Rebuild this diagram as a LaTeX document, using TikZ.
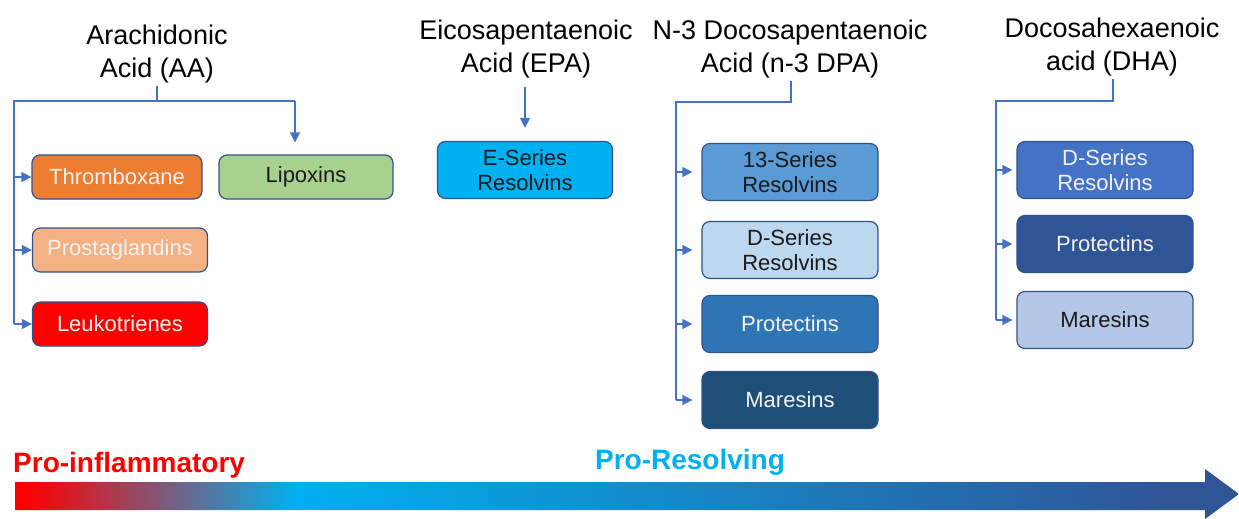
\documentclass[tikz,border=0pt]{standalone}
\usepackage{fontspec}
\setmainfont{Liberation Sans}
\usetikzlibrary{arrows.meta, positioning}

\definecolor{linkblue}{HTML}{4472C4}
\definecolor{edgeblue}{HTML}{2F528F}
\definecolor{thromboorange}{HTML}{ED7D31}
\definecolor{lipoxgreen}{HTML}{A9D18E}
\definecolor{prostapeach}{HTML}{F4B183}
\definecolor{leukored}{HTML}{FF0000}
\definecolor{epacyan}{HTML}{00B0F0}
\definecolor{midblue}{HTML}{5B9BD5}
\definecolor{paleblue}{HTML}{BDD7EE}
\definecolor{strongblue}{HTML}{2E75B6}
\definecolor{navyblue}{HTML}{1F4E79}
\definecolor{royalblue}{HTML}{4472C4}
\definecolor{deepblue}{HTML}{2F5597}
\definecolor{softblue}{HTML}{B4C7E7}
\definecolor{boxwhite}{HTML}{F2F2F2}
\definecolor{boxblack}{HTML}{1A1A1A}

\pgfdeclarehorizontalshading{proresolve}{100bp}{color(0bp)=(leukored); color(25.4bp)=(leukored); color(36.5bp)=(epacyan); color(72bp)=(deepblue); color(100bp)=(deepblue)}

\begin{document}
\begin{tikzpicture}[x=1pt, y=-1pt,
    head/.style={align=center, text=black, font=\fontsize{27}{32.5}\selectfont},
    box/.style={draw=edgeblue, line width=1.2pt, rounded corners=8pt, align=center, inner sep=2pt, font=\fontsize{22}{25}\selectfont},
    tallbox/.style={box, minimum width=176pt, minimum height=57pt},
    flatbox/.style={box, minimum width=175pt, minimum height=44pt},
    link/.style={draw=linkblue, line width=1.3pt},
    linkarrow/.style={link, -{Triangle[length=10pt, width=10pt]}},
    ]

    \useasboundingbox (0,0) rectangle (1239,519);

    % Fatty acid headings
    \node (aa) [head] at (157,54) {Arachidonic\\Acid (AA)};
    \node (epa) [head] at (526,49) {Eicosapentaenoic\\Acid (EPA)};
    \node (dpa) [head] at (790,49) {N-3 Docosapentaenoic\\Acid (n-3 DPA)};
    \node (dha) [head] at (1112,47) {Docosahexaenoic\\acid (DHA)};

    % Mediators from AA
    \node (thrombo) [flatbox, minimum width=170pt, fill=thromboorange, text=boxwhite] at (117,177) {Thromboxane};
    \node (lipox) [flatbox, minimum width=174pt, fill=lipoxgreen, text=boxblack] at (306,177) {Lipoxins};
    \node (prosta) [flatbox, fill=prostapeach, text=boxwhite] at (120,250) {Prostaglandins};
    \node (leuko) [flatbox, fill=leukored, text=boxwhite] at (120,324) {Leukotrienes};

    % Mediators from EPA
    \node (eseries) [tallbox, minimum width=175pt, fill=epacyan, text=boxblack] at (525,170) {E-Series\\Resolvins};

    % Mediators from n-3 DPA
    \node (dpaRv) [tallbox, fill=midblue, text=boxblack] at (790,172) {13-Series\\Resolvins};
    \node (dpaDRv) [tallbox, fill=paleblue, text=boxblack] at (790,250) {D-Series\\Resolvins};
    \node (dpaPro) [tallbox, fill=strongblue, text=boxwhite] at (790,324) {Protectins};
    \node (dpaMar) [tallbox, fill=navyblue, text=boxwhite] at (790,400) {Maresins};

    % Mediators from DHA
    \node (dhaDRv) [tallbox, fill=royalblue, text=boxwhite] at (1105,170) {D-Series\\Resolvins};
    \node (dhaPro) [tallbox, fill=deepblue, text=boxwhite] at (1105,244) {Protectins};
    \node (dhaMar) [tallbox, fill=softblue, text=boxblack] at (1105,320) {Maresins};

    % Branch points
    \coordinate (aaFork) at (157,101);
    \coordinate (aaTrunk) at (14,101);
    \coordinate (aaRight) at (295,101);
    \coordinate (dpaFork) at (791,102);
    \coordinate (dpaTrunk) at (676,102);
    \coordinate (dhaFork) at (1113,101);
    \coordinate (dhaTrunk) at (996,101);

    % Connectors for AA
    \draw[link] (aa.south) -- (aaFork) -- (aaTrunk) -- (aaTrunk |- leuko.west);
    \draw[link] (aaFork) -- (aaRight);
    \draw[linkarrow, shorten >=12pt] (aaRight) -- (aaRight |- lipox.north);
    \draw[linkarrow] (aaTrunk |- thrombo.west) -- (thrombo.west);
    \draw[linkarrow] (aaTrunk |- prosta.west) -- (prosta.west);
    \draw[linkarrow] (aaTrunk |- leuko.west) -- (leuko.west);

    % Connector for EPA
    \draw[linkarrow, shorten <=6pt, shorten >=13pt] (epa.south -| eseries.north) -- (eseries.north);

    % Connectors for n-3 DPA
    \draw[link] (dpa.south -| dpaFork) -- (dpaFork) -- (dpaTrunk) -- (dpaTrunk |- dpaMar.west);
    \foreach \target in {dpaRv, dpaDRv, dpaPro, dpaMar}
        \draw[linkarrow, shorten >=9pt] (dpaTrunk |- \target.west) -- (\target.west);

    % Connectors for DHA
    \draw[link] (dha.south -| dhaFork) -- (dhaFork) -- (dhaTrunk) -- (dhaTrunk |- dhaMar.west);
    \foreach \target in {dhaDRv, dhaPro, dhaMar}
        \draw[linkarrow, shorten >=4pt] (dhaTrunk |- \target.west) -- (\target.west);

    % Gradient arrow along the bottom
    \shade[shading=proresolve] (15,482) -- (1205,482) -- (1205,469) -- (1239,494) -- (1205,519) -- (1205,510) -- (15,510) -- cycle;
    \node (proinf) [anchor=west, inner sep=0pt, text=leukored, font=\fontsize{28}{32}\selectfont\bfseries] at (13,465) {Pro-inflammatory};
    \node (prores) [inner sep=0pt, text=epacyan, font=\fontsize{28}{32}\selectfont\bfseries] at (690,462) {Pro-Resolving};

\end{tikzpicture}
\end{document}
